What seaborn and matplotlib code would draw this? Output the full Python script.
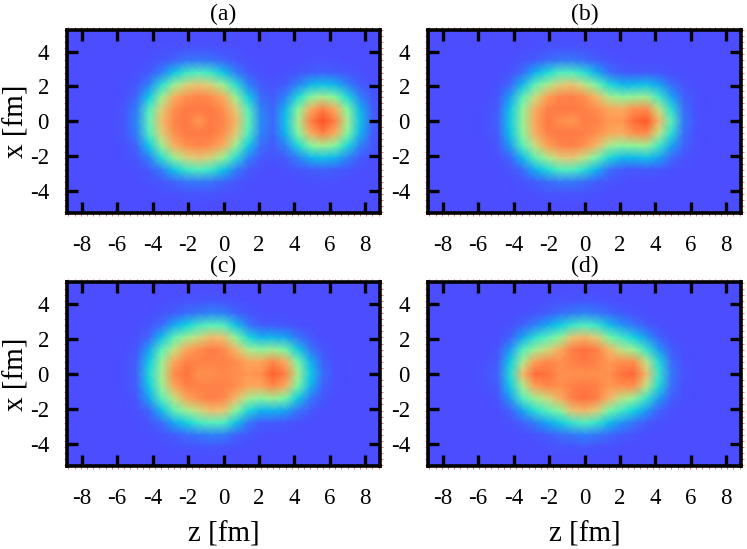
import numpy as np
import pandas as pd
import seaborn as sns
import matplotlib
matplotlib.use("Agg")
import matplotlib.pyplot as plt
from matplotlib.colors import LinearSegmentedColormap

# density, upper half only (x = 0, 0.7, ... fm)
z_nodes = [round(-9.1 + 0.7 * i, 1) for i in range(27)]
x_nodes = [round(0.7 * j, 1) for j in range(9)]
first_col = 5  # rows below start at z = -5.6

panel_a = [
    [3, 15, 46, 72, 87, 90, 82, 90, 87, 74, 46, 16, 8, 28, 60, 88, 100, 88, 60, 28, 6],
    [3, 13, 42, 68, 84, 90, 90, 90, 84, 69, 42, 14, 7, 24, 52, 76, 88, 76, 52, 24, 5],
    [1, 8, 30, 57, 75, 84, 87, 84, 76, 57, 30, 9, 4, 14, 34, 52, 60, 52, 34, 14, 3],
    [1, 3, 14, 36, 56, 67, 70, 67, 56, 36, 14, 4, 2, 5, 14, 24, 28, 24, 14, 5, 1],
    [0, 1, 4, 13, 28, 39, 42, 39, 28, 13, 4, 1, 0, 1, 3, 5, 6, 5, 3, 1, 0],
    [0, 0, 1, 3, 7, 11, 12, 11, 7, 3, 1, 0, 0, 0, 0, 1, 1, 1],
    [0, 0, 0, 1, 1, 2, 2, 2, 1, 1],
]
panel_b = [
    [1, 6, 30, 57, 78, 90, 85, 82, 89, 88, 82, 82, 93, 98, 74, 44, 12, 2],
    [1, 5, 28, 54, 75, 88, 90, 90, 88, 84, 78, 76, 84, 85, 64, 36, 10, 1],
    [0, 3, 19, 44, 65, 80, 87, 88, 84, 73, 60, 54, 56, 58, 40, 20, 6, 1],
    [0, 1, 8, 25, 45, 60, 68, 70, 64, 49, 34, 25, 25, 28, 20, 9, 2],
    [0, 0, 2, 9, 22, 34, 42, 42, 36, 22, 10, 5, 3, 4, 3, 1],
    [0, 0, 0, 2, 5, 9, 12, 12, 9, 5, 2, 1],
    [0, 0, 0, 0, 1, 2, 2, 2, 2, 1],
]
panel_c = [
    [1, 7, 34, 60, 85, 92, 84, 84, 86, 85, 82, 84, 96, 88, 60, 30, 10, 1],
    [1, 6, 30, 56, 78, 88, 88, 88, 88, 85, 78, 78, 86, 76, 50, 24, 6, 1],
    [0, 3, 20, 44, 64, 78, 85, 89, 86, 73, 60, 54, 58, 50, 30, 12, 3],
    [0, 1, 8, 26, 45, 58, 66, 72, 70, 54, 34, 24, 24, 20, 11, 4],
    [0, 0, 2, 9, 21, 32, 40, 44, 42, 28, 12, 5, 4, 3, 1],
    [0, 0, 0, 2, 5, 9, 12, 14, 13, 7, 3, 1],
    [0, 0, 0, 0, 1, 2, 2, 3, 2, 1],
]
panel_d = [
    [2, 7, 35, 72, 93, 92, 84, 84, 84, 84, 84, 92, 94, 72, 38, 12, 2],
    [1, 5, 30, 60, 80, 86, 84, 88, 90, 88, 82, 84, 84, 64, 34, 10, 1],
    [0, 2, 18, 42, 58, 66, 76, 89, 92, 88, 74, 64, 56, 38, 18, 5, 1],
    [0, 0, 6, 20, 36, 44, 54, 70, 74, 68, 50, 40, 32, 18, 6, 1],
    [0, 0, 1, 6, 13, 21, 30, 38, 42, 38, 26, 17, 11, 4, 1],
    [0, 0, 0, 1, 2, 5, 9, 12, 14, 12, 8, 4, 2],
    [0, 0, 0, 0, 0, 1, 2, 2, 3, 2, 1],
]
panel_titles = ["(a)", "(b)", "(c)", "(d)"]
z_ticks = [-8, -6, -4, -2, 0, 2, 4, 6, 8]
x_ticks = [-4, -2, 0, 2, 4]

color_values = [0, 0.1, 0.22, 0.32, 0.42, 0.52, 0.63, 0.71, 0.8, 0.9, 1]
color_list = ["#4b4dff", "#3a70fb", "#10aef0", "#10d4e0", "#50f0c0", "#80f8a0",
              "#b8e888", "#f0c070", "#ffa055", "#ff7a45", "#ff4f22"]
cmap = LinearSegmentedColormap.from_list("density", list(zip(color_values, color_list)))


def build_frame(rows):
    upper = np.zeros((len(x_nodes), len(z_nodes)))
    for j, row in enumerate(rows):
        upper[j, first_col:first_col + len(row)] = row
    # picture is symmetric around x = 0
    full = np.vstack([upper[:0:-1], upper])
    x_full = [-v for v in x_nodes[:0:-1]] + x_nodes
    return pd.DataFrame(full[::-1], index=x_full[::-1], columns=z_nodes)


def z_pos(z):
    return (np.asarray(z) - z_nodes[0]) / 0.7


def x_pos(x):
    return (x_nodes[-1] - np.asarray(x)) / 0.7


plt.rcParams["font.family"] = ["Liberation Serif", "DejaVu Serif"]
plt.rcParams["axes.unicode_minus"] = False

W, H = 747, 549
fig = plt.figure(figsize=(W / 100, H / 100), dpi=100)
boxes = [(67, 29.5, 380, 213), (428, 29.5, 741, 213), (67, 282, 380, 466), (428, 282, 741, 466)]
panels = [panel_a, panel_b, panel_c, panel_d]

for k, (rows, box) in enumerate(zip(panels, boxes)):
    left, top, right, bottom = box
    ax = fig.add_axes([left / W, 1 - bottom / H, (right - left) / W, (bottom - top) / H])
    sns.heatmap(build_frame(rows), ax=ax, cmap=cmap, vmin=0, vmax=100, cbar=False,
                xticklabels=False, yticklabels=False, shading="gouraud")
    ax.set_xlim(z_pos(-8.83), z_pos(8.83))
    ax.set_ylim(x_pos(-5.28), x_pos(5.28))
    ax.set_xticks(z_pos(z_ticks))
    ax.set_xticklabels(z_ticks)
    ax.set_yticks(x_pos(x_ticks))
    ax.set_yticklabels(x_ticks)
    ax.set_xticks(z_pos(np.arange(-8.75, 8.76, 0.35)), minor=True)
    ax.set_yticks(x_pos(np.arange(-5.25, 5.26, 0.35)), minor=True)
    ax.tick_params(which="major", direction="in", length=8, width=2.4, color="black",
                   top=True, right=True, labelsize=16.5, pad=16)
    ax.tick_params(axis="y", which="major", pad=13)
    ax.tick_params(which="minor", direction="out", length=2, width=0.7, color="#ff7070",
                   top=True, right=True, bottom=True, left=True)
    for spine in ax.spines.values():
        spine.set_visible(True)
        spine.set_linewidth(2.6)
        spine.set_color("black")
    ax.set_title(panel_titles[k], fontsize=17, pad=7)
    ax.set_xlabel("z [fm]" if k >= 2 else "", fontsize=21, labelpad=9)
    ax.set_ylabel("x [fm]" if k % 2 == 0 else "", fontsize=21, labelpad=0)

fig.savefig("out.png", dpi=100)
